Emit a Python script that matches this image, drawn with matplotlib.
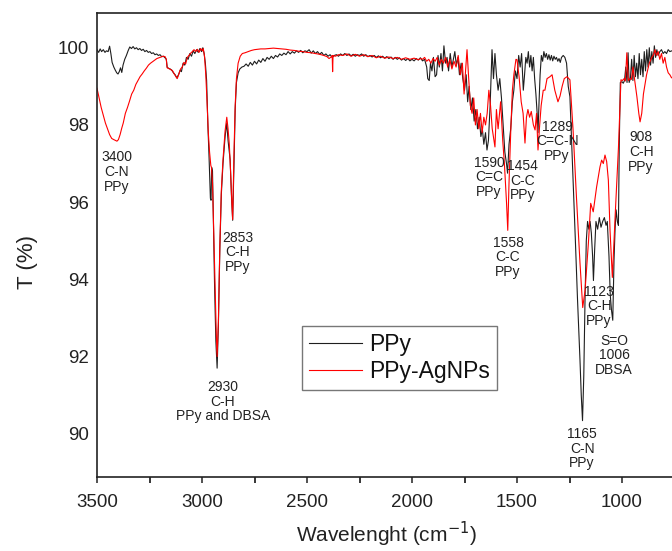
import matplotlib
matplotlib.use("Agg")
import matplotlib.pyplot as plt
from matplotlib.ticker import MultipleLocator

plt.rcParams['font.family'] = ['Liberation Sans', 'DejaVu Sans']

# ---------------- data (wavenumber cm-1, transmittance %) ----------------
ppy_wn = [3500, 3492, 3485, 3478, 3470, 3462, 3455, 3447, 3440, 3434, 3428, 3420, 3413, 3406, 3400,
          3394, 3388, 3382, 3376, 3368, 3360, 3352, 3344, 3336, 3328, 3320, 3312, 3304, 3296, 3288,
          3280, 3272, 3264, 3256, 3248, 3240, 3232, 3224, 3216, 3208, 3200, 3192, 3184, 3176, 3170,
          3166, 3160, 3152, 3144, 3136, 3128, 3120, 3112, 3104, 3098, 3090, 3082, 3074, 3066, 3058,
          3050, 3042, 3034, 3026, 3018, 3010, 3002, 2996, 2990, 2984, 2978, 2972, 2966, 2960, 2957,
          2954, 2950, 2945, 2940, 2934, 2928, 2922, 2915, 2908, 2900, 2890, 2882, 2876, 2870, 2866,
          2860, 2854, 2848, 2842, 2836, 2828, 2820, 2810, 2800,
          2790, 2780, 2770, 2760, 2750, 2740, 2730, 2720, 2710, 2700, 2690, 2680, 2670, 2660, 2650,
          2640, 2630, 2620, 2610, 2600, 2590, 2580, 2570, 2560, 2550, 2540, 2530, 2520, 2510, 2500,
          2490, 2480, 2470, 2460, 2450, 2440, 2430, 2420, 2410, 2400, 2390, 2380, 2370, 2360, 2350,
          2340, 2330, 2320, 2310, 2300, 2290, 2280, 2270, 2260, 2250, 2240, 2230, 2220, 2210, 2200,
          2190, 2180, 2170, 2160, 2150, 2140, 2130, 2120, 2110, 2100, 2090, 2080, 2070, 2060, 2050,
          2040, 2030, 2020, 2010, 2000, 1990, 1980, 1970, 1960, 1950,
          1940, 1930, 1925, 1918, 1912, 1905, 1898, 1890, 1883, 1876, 1870, 1862, 1855, 1848, 1840,
          1833, 1826, 1818, 1810, 1803, 1796, 1789, 1781, 1774, 1766, 1758,
          1750, 1742, 1735, 1728, 1720, 1712, 1704, 1696, 1688, 1680, 1672, 1665, 1658, 1650, 1643,
          1636, 1628, 1619,
          1612, 1605, 1598, 1590, 1582, 1574, 1566, 1558, 1550, 1545, 1538, 1530, 1522, 1515, 1508,
          1500, 1492, 1485, 1478, 1470, 1464, 1458, 1452, 1446, 1440, 1434, 1428, 1422, 1416, 1410,
          1404, 1400, 1395, 1390, 1384, 1378, 1372, 1366, 1360, 1354, 1348, 1342, 1336, 1330, 1324,
          1318, 1312, 1306, 1300, 1294, 1288, 1280, 1272, 1264, 1256, 1248, 1240, 1233, 1222, 1212,
          1200, 1194, 1188, 1182, 1176, 1170, 1164, 1158, 1152, 1146, 1140, 1136, 1130, 1124, 1116,
          1108, 1100, 1092, 1084, 1076, 1070, 1062, 1056, 1050, 1044, 1038, 1033, 1028, 1022, 1017,
          1013, 1008, 1000, 994, 988, 982, 976, 971, 966, 960, 954, 948, 942, 936, 930,
          924, 918, 912, 906, 900, 894, 888, 882, 876, 870, 864, 858, 852, 846, 840,
          834, 828, 820, 812, 804, 796, 788, 780, 772, 764, 756]
ppy_t = [99.95, 99.88, 99.97, 99.90, 99.95, 99.88, 99.92, 99.90, 100.04, 99.85, 99.62, 99.50, 99.42, 99.35, 99.32,
         99.38, 99.48, 99.36, 99.55, 99.70, 99.80, 99.92, 100.02, 99.98, 100.03, 99.97, 100.00, 99.95, 99.98, 99.93,
         99.96, 99.90, 99.93, 99.88, 99.90, 99.85, 99.87, 99.82, 99.84, 99.80, 99.82, 99.77, 99.78, 99.74, 99.70,
         99.50, 99.47, 99.45, 99.42, 99.35, 99.30, 99.22, 99.30, 99.42, 99.38, 99.60, 99.55, 99.75, 99.70, 99.85,
         99.78, 99.92, 99.85, 99.95, 99.88, 99.98, 99.90, 100.00, 99.85, 99.60, 99.15, 98.00, 97.10, 96.10, 96.05,
         96.90, 96.80, 95.30, 93.80, 92.40, 91.70, 92.80, 94.80, 96.20, 97.00, 97.70, 98.05, 97.60, 97.30, 97.10,
         96.20, 95.53, 96.90, 98.40, 99.10, 99.35, 99.45, 99.50, 99.52,
         99.58, 99.52, 99.62, 99.55, 99.65, 99.58, 99.68, 99.62, 99.72, 99.65, 99.75, 99.70, 99.78, 99.72, 99.80,
         99.76, 99.84, 99.80, 99.86, 99.82, 99.90, 99.84, 99.90, 99.86, 99.92, 99.88, 99.93, 99.87, 99.92, 99.90,
         99.95, 99.86, 99.92, 99.85, 99.90, 99.83, 99.88, 99.80, 99.84, 99.78, 99.82, 99.75, 99.80, 99.82, 99.78,
         99.84, 99.80, 99.85, 99.80, 99.84, 99.79, 99.83, 99.78, 99.82, 99.80, 99.84, 99.78, 99.82, 99.77, 99.80,
         99.76, 99.80, 99.75, 99.79, 99.74, 99.78, 99.73, 99.77, 99.72, 99.76, 99.70, 99.75, 99.70, 99.74, 99.68,
         99.72, 99.67, 99.72, 99.66, 99.70, 99.66, 99.72, 99.68, 99.74, 99.66,
         99.70, 99.50, 99.20, 99.15, 99.60, 99.40, 99.75, 99.25, 99.30, 99.80, 99.50, 99.85, 99.40, 100.05, 99.60,
         99.75, 99.40, 99.85, 99.50, 99.70, 99.90, 99.55, 99.75, 99.30, 99.60, 99.20,
         98.90, 99.30, 98.60, 99.00, 98.40, 98.70, 98.10, 98.40, 97.90, 98.20, 97.70, 97.90, 97.50, 97.80, 97.35,
         97.60, 98.50, 99.95,
         99.20, 99.85, 99.30, 98.90, 99.20, 98.70, 98.00, 97.30, 97.00, 96.75, 97.50, 97.90, 98.60, 98.90, 99.40,
         99.20, 99.80, 99.50, 99.85, 98.90, 99.30, 99.75, 99.60, 99.90, 99.50, 99.80, 99.40, 99.75, 99.20, 98.80,
         98.30, 97.80, 98.60, 99.30, 99.80, 99.65, 99.90, 99.75, 99.85, 99.70, 99.82, 99.68, 99.80, 99.66, 99.78,
         99.70, 99.75, 99.65, 99.72, 99.62, 99.75, 99.80, 99.75, 99.60, 99.00, 98.73, 97.60, 96.57, 95.00, 93.50,
         91.90, 91.00, 90.34, 91.50, 93.50, 95.00, 95.50, 95.30, 95.50, 95.20, 94.60, 93.97, 94.80, 95.50, 95.30,
         95.60, 95.35, 95.50, 95.60, 95.40, 95.50, 94.60, 93.60, 93.20, 92.94, 94.50, 95.30, 95.80, 95.50, 95.40,
         97.50, 99.10, 99.12, 99.08, 99.15, 99.50, 99.10, 99.87, 99.10, 99.20, 99.70, 99.15, 99.80, 99.25, 99.60,
         99.20, 99.85, 99.30, 99.70, 99.25, 99.90, 99.40, 99.95, 99.50, 100.00, 99.55, 99.90, 99.60, 100.05, 99.75,
         99.95, 99.80, 99.90, 99.95, 99.85, 99.90, 99.85, 99.95, 99.90, 99.92, 99.90]

ag_wn = [3500, 3490, 3480, 3470, 3460, 3450, 3440, 3430, 3420, 3412, 3405, 3398, 3390, 3382, 3375,
         3365, 3355, 3345, 3335, 3325, 3315, 3305, 3295, 3285, 3275, 3265, 3255, 3245, 3235, 3225,
         3215, 3205, 3195, 3185, 3176, 3170, 3166, 3158, 3150, 3140, 3132, 3124, 3118, 3110, 3102,
         3094, 3086, 3078, 3070, 3062, 3054, 3046, 3038, 3030, 3022, 3014, 3006, 2998, 2994, 2988,
         2982, 2976, 2970, 2964, 2958, 2955, 2950, 2944, 2938, 2932, 2928, 2922, 2915, 2908, 2900,
         2890, 2882, 2876, 2870, 2864, 2858, 2854, 2848, 2842, 2836, 2828, 2818, 2808, 2795, 2780,
         2765, 2750, 2735, 2720, 2700, 2680, 2660, 2640, 2620, 2600, 2580, 2560, 2540, 2520, 2500,
         2480, 2460, 2440, 2420, 2405, 2395, 2385, 2380, 2378, 2376, 2365, 2350, 2330, 2310, 2290,
         2270, 2250, 2230, 2210, 2190, 2170, 2150, 2130, 2110, 2090, 2070, 2050, 2030, 2010, 1990,
         1970, 1960, 1950, 1940, 1930, 1920, 1910, 1900, 1890, 1880, 1870, 1860, 1850, 1840, 1830,
         1820, 1810, 1800, 1790, 1780, 1770, 1760, 1752, 1745, 1738, 1730, 1722, 1714, 1706, 1698,
         1690, 1682, 1674, 1666, 1658, 1650, 1642, 1634, 1626, 1618, 1605, 1598, 1590, 1578, 1568,
         1560, 1550, 1544, 1538, 1530, 1522, 1515, 1505, 1500, 1490, 1480, 1471, 1462, 1455, 1448,
         1440, 1432, 1422, 1414, 1407, 1400, 1392, 1385, 1375, 1367, 1357, 1343, 1333, 1320, 1305,
         1295, 1285, 1275, 1262, 1248, 1233, 1217, 1200, 1187, 1176, 1160, 1149, 1137, 1121, 1105,
         1097, 1089, 1081, 1073, 1065, 1057, 1046, 1033, 1017, 1005, 998, 990, 984, 977, 970,
         962, 955, 948, 938, 929, 920, 914, 906, 898, 883, 870, 858, 850, 843, 836,
         828, 820, 812, 804, 796, 788, 780, 772, 764, 756]
ag_t = [98.95, 98.70, 98.45, 98.25, 98.05, 97.90, 97.75, 97.65, 97.62, 97.60, 97.58, 97.62, 97.75, 97.92, 98.05,
        98.30, 98.45, 98.62, 98.80, 98.90, 99.05, 99.15, 99.25, 99.32, 99.40, 99.47, 99.55, 99.60, 99.64, 99.68,
        99.72, 99.74, 99.76, 99.78, 99.77, 99.70, 99.48, 99.46, 99.44, 99.40, 99.32, 99.25, 99.20, 99.32, 99.45,
        99.50, 99.62, 99.58, 99.75, 99.80, 99.86, 99.90, 99.95, 99.90, 99.96, 99.88, 99.98, 99.92, 99.98, 99.78,
        99.30, 98.60, 97.80, 97.30, 96.95, 96.90, 96.50, 95.20, 93.80, 92.60, 92.00, 92.90, 94.90, 96.30, 97.10,
        97.85, 98.20, 97.90, 97.50, 96.80, 96.00, 95.55, 97.20, 98.50, 99.20, 99.60, 99.78, 99.85, 99.87, 99.90,
        99.93, 99.95, 99.96, 99.97, 99.97, 99.98, 99.99, 99.98, 99.97, 99.96, 99.94, 99.93, 99.91, 99.90, 99.88,
        99.87, 99.85, 99.83, 99.80, 99.77, 99.72, 99.76, 99.80, 99.38, 99.80, 99.78, 99.82, 99.80, 99.84, 99.78,
        99.83, 99.78, 99.82, 99.77, 99.80, 99.74, 99.78, 99.73, 99.76, 99.72, 99.75, 99.70, 99.74, 99.70, 99.73,
        99.69, 99.72, 99.70, 99.75, 99.65, 99.70, 99.60, 99.72, 99.65, 99.75, 99.55, 99.70, 99.60, 99.75, 99.50,
        99.70, 99.45, 99.65, 99.50, 99.80, 99.30, 99.60, 98.80, 99.40, 99.95, 99.20, 98.50, 98.30, 98.70, 98.00,
        98.40, 97.90, 98.30, 97.80, 98.20, 98.00, 98.30, 98.90, 98.50, 97.90, 97.43, 98.40, 97.90, 98.60, 97.60,
        97.00, 96.00, 95.27, 96.50, 97.80, 98.90, 99.30, 99.70, 99.69, 99.25, 98.60, 98.30, 97.53, 98.20, 98.40,
        98.20, 98.35, 98.00, 97.87, 98.30, 97.35, 98.00, 98.50, 98.90, 98.90, 99.20, 99.25, 99.30, 98.90, 98.60,
        98.75, 99.00, 99.20, 99.25, 99.17, 97.87, 96.14, 94.42, 93.27, 93.71, 94.94, 95.97, 95.75, 96.39, 96.91,
        97.09, 97.00, 97.22, 97.05, 96.57, 95.27, 94.05, 95.60, 97.40, 99.17, 99.15, 99.20, 99.14, 99.87, 99.15,
        99.20, 99.18, 99.50, 99.10, 98.73, 98.30, 98.08, 98.30, 98.80, 99.30, 99.60, 99.75, 99.82, 99.95, 99.80,
        99.90, 99.70, 99.85, 99.60, 99.75, 99.50, 99.35, 99.30, 99.22, 99.25]

series_labels = ["PPy", "PPy-AgNPs"]

# annotation texts: (label, wavenumber, T)
ann_text = ["3400\nC-N\nPPy", "2853\nC-H\nPPy", "2930\nC-H\nPPy and DBSA", "1590\nC=C\nPPy",
            "1454\nC-C\nPPy", "1558\nC-C\nPPy", "1289\nC=C-N\nPPy", "908\nC-H\nPPy",
            "1123\nC-H\nPPy", "S=O\n1006\nDBSA", "1165\nC-N\nPPy"]
ann_x = [3405, 2829, 2900, 1633, 1474, 1543, 1309, 909, 1109, 1038, 1190]
ann_y = [96.78, 94.70, 90.83, 96.65, 96.55, 94.57, 97.58, 97.30, 93.30, 92.03, 89.61]

xticks = [3500, 3000, 2500, 2000, 1500, 1000]
yticks = [90, 92, 94, 96, 98, 100]

# ---------------- figure ----------------
W, H = 672, 551
fig = plt.figure(figsize=(W / 100, H / 100), dpi=100)
ax_left, ax_top, ax_bottom = 97, 13, 477
x_lo, x_hi = 3500, 700
px_per_wn = 105 / 500
ax_w = (x_lo - x_hi) * px_per_wn
ax = fig.add_axes([ax_left / W, 1 - ax_bottom / H, ax_w / W, (ax_bottom - ax_top) / H])

l1, = ax.plot(ppy_wn, ppy_t, color='#1e1e1e', lw=0.8, label=series_labels[0])
l2, = ax.plot(ag_wn, ag_t, color='#ff0000', lw=0.8, label=series_labels[1])

ax.set_xlim(x_lo, x_hi)
ax.set_ylim(88.88, 100.9)

ax.set_xticks(xticks)
ax.xaxis.set_minor_locator(MultipleLocator(250))
ax.set_yticks(yticks)
ax.tick_params(axis='x', which='major', direction='out', length=4, width=1.1,
               labelsize=13.5, pad=8, colors='#222222')
ax.tick_params(axis='x', which='minor', direction='out', length=4, width=1.1)
ax.tick_params(axis='y', which='major', length=0, labelsize=13.5, pad=6, colors='#222222')
for s in ax.spines.values():
    s.set_linewidth(1.2)
    s.set_color('#222222')

ax.set_xlabel("Wavelenght (cm$^{-1}$)", fontsize=15, color='#222222')
ax.xaxis.set_label_coords((386 - ax_left) / ax_w, (ax_bottom - 520) / (ax_bottom - ax_top))
ax.set_ylabel("T (%)", fontsize=16, color='#222222')
ax.yaxis.set_label_coords((38 - ax_left) / ax_w, (ax_bottom - 262) / (ax_bottom - ax_top))

for t, x, y in zip(ann_text, ann_x, ann_y):
    ax.text(x, y, t, ha='center', va='center', fontsize=10, color='#222222',
            linespacing=1.05)

leg = ax.legend(handles=[l1, l2], loc='upper left',
                bbox_to_anchor=(302 / W, 1 - 326 / H), bbox_transform=fig.transFigure,
                fontsize=16.5, frameon=True, fancybox=False, borderaxespad=0,
                borderpad=0.3, labelspacing=0.18, handlelength=2.3, handletextpad=0.35)
leg.get_frame().set_edgecolor('#555555')
leg.get_frame().set_linewidth(1.0)
for txt in leg.get_texts():
    txt.set_color('#111111')

fig.savefig("out.png", dpi=100)
